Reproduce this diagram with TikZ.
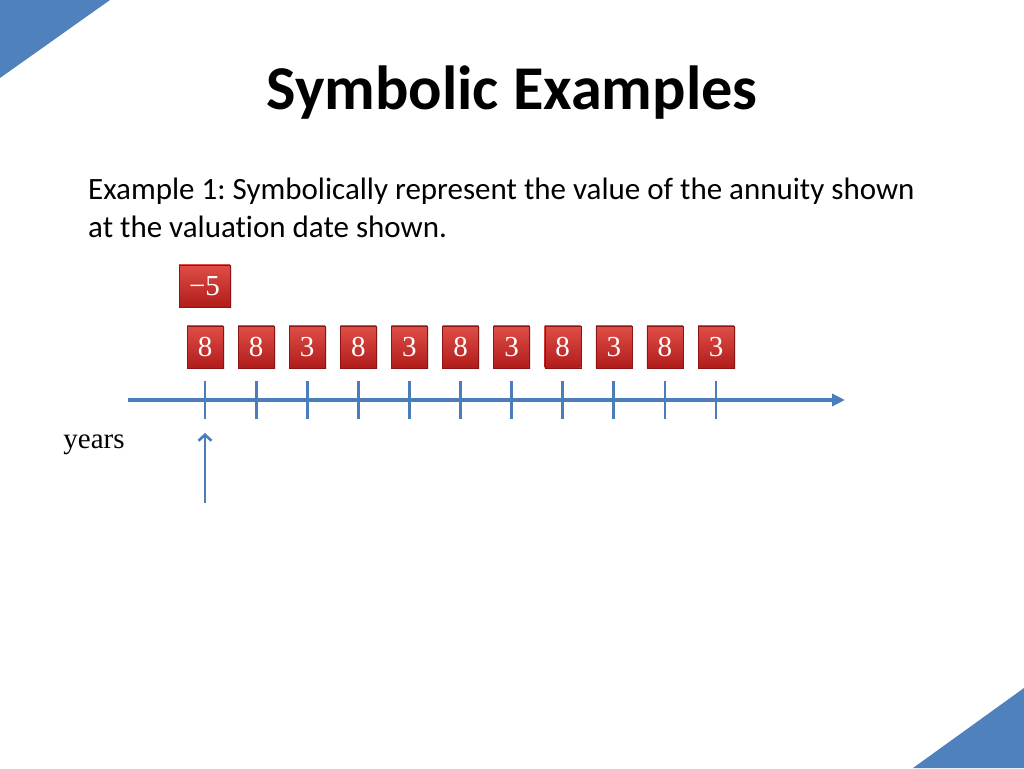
\documentclass[tikz,border=0pt]{standalone}
\usepackage{fontspec}
\usepackage{tikz}
\usetikzlibrary{arrows,arrows.meta,calc,positioning,shadows}
\newfontfamily\calibri[Ligatures=NoCommon]{Carlito}
\newfontfamily\cambria{Liberation Serif}
\frenchspacing
\definecolor{slideblue}{RGB}{79,129,189}
\definecolor{axisblue}{RGB}{74,126,187}
\definecolor{boxtop}{RGB}{224,78,72}
\definecolor{boxbot}{RGB}{176,28,26}
\definecolor{boxedge}{RGB}{140,20,20}
\tikzset{%
	cashbox/.style = {draw=boxedge, rectangle, top color=boxtop, bottom color=boxbot, minimum width=36pt, minimum height=42pt, inner sep=0pt, text=white, font=\cambria\fontsize{29}{32}\selectfont, drop shadow={opacity=0.25, shadow xshift=1.5pt, shadow yshift=-1.5pt}},
	axis/.style    = {axisblue, line width=3.8pt, -{Triangle[length=13pt,width=12pt]}},
	tick/.style    = {axisblue, line width=2.8pt},
	arrow/.style   = {axisblue, line width=2.6pt, -{Straight Barb[length=6pt,width=13pt]}},
}

\begin{document}
\begin{tikzpicture}[x=1pt, y=1pt, node distance=51.1pt]
		\useasboundingbox (0,0) rectangle (1024,768);
		\fill[slideblue] (0,768) -- (110,768) -- (0,690) -- cycle;
		\fill[slideblue] (1024,80) -- (1024,0) -- (913,0) -- cycle;
		
		\node (title) at (512,675) {\calibri\bfseries\fontsize{62.3}{74}\selectfont Symbolic Examples};
		\node[anchor=base west, inner sep=0pt] (line1) at (88,568) {\calibri\fontsize{31}{36}\selectfont Example 1: Symbolically represent the value of the annuity shown};
		\node[anchor=base west, inner sep=0pt] (line2) at (88,530) {\calibri\fontsize{31}{36}\selectfont at the valuation date shown.};
		
		\node[cashbox, minimum width=51pt] (out) at (204.5,482) {−5};
		\node[cashbox] (c0) at (205,421) {8};
		\node[cashbox, right of=c0] (c1) {8};
		\node[cashbox, right of=c1] (c2) {3};
		\node[cashbox, right of=c2] (c3) {8};
		\node[cashbox, right of=c3] (c4) {3};
		\node[cashbox, right of=c4] (c5) {8};
		\node[cashbox, right of=c5] (c6) {3};
		\node[cashbox, right of=c6] (c7) {8};
		\node[cashbox, right of=c7] (c8) {3};
		\node[cashbox, right of=c8] (c9) {8};
		\node[cashbox, right of=c9] (c10) {3};
		
		\coordinate (axl) at (128,368);
		\coordinate (axr) at (845,368);
		\draw[axis] (axl) -- (axr);
		\draw[tick] ($(c0.south)+(0,-13)$) -- ++(0,-38);
		\draw[tick] ($(c1.south)+(0,-13)$) -- ++(0,-38);
		\draw[tick] ($(c2.south)+(0,-13)$) -- ++(0,-38);
		\draw[tick] ($(c3.south)+(0,-13)$) -- ++(0,-38);
		\draw[tick] ($(c4.south)+(0,-13)$) -- ++(0,-38);
		\draw[tick] ($(c5.south)+(0,-13)$) -- ++(0,-38);
		\draw[tick] ($(c6.south)+(0,-13)$) -- ++(0,-38);
		\draw[tick] ($(c7.south)+(0,-13)$) -- ++(0,-38);
		\draw[tick] ($(c8.south)+(0,-13)$) -- ++(0,-38);
		\draw[tick] ($(c9.south)+(0,-13)$) -- ++(0,-38);
		\draw[tick] ($(c10.south)+(0,-13)$) -- ++(0,-38);
		
		\node (years) at (94,323) {\cambria\fontsize{29}{32}\selectfont years};
		\coordinate (valfoot) at (205,265);
		\coordinate (valtip) at (205,335);
		\draw[arrow] (valfoot) -- (valtip);
		\end{tikzpicture}
\end{document}
